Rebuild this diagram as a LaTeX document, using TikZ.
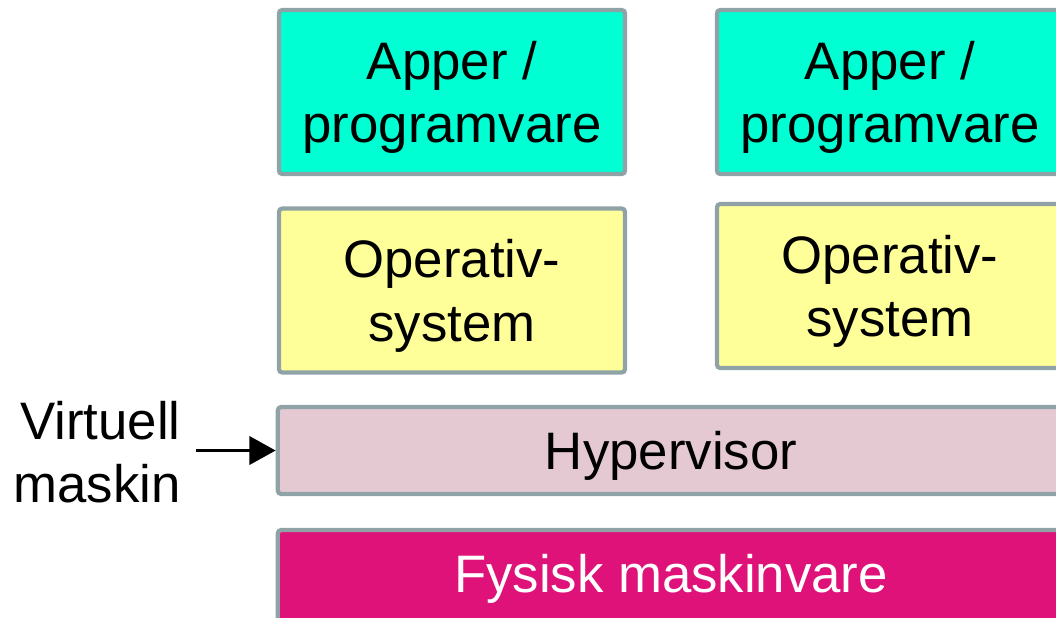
\documentclass[tikz,border=0pt]{standalone}
\usepackage{fontspec}
\setmainfont{Liberation Sans}
\usetikzlibrary{positioning,arrows,arrows.meta}

\definecolor{appcol}{RGB}{0,255,210}
\definecolor{oscol}{RGB}{255,255,153}
\definecolor{hypcol}{RGB}{228,200,210}
\definecolor{hwcol}{RGB}{222,18,120}
\definecolor{edgecol}{RGB}{143,163,166}

\begin{document}
\begin{tikzpicture}[x=0.01cm, y=-0.01cm,
    layer/.style={draw=edgecol, line width=1.2pt, rounded corners=1pt, align=center,
      inner sep=0pt, text depth=0pt, font=\fontsize{15}{18}\selectfont},
    small/.style={layer, minimum width=3.46cm, minimum height=1.64cm},
    wide/.style={layer, minimum width=7.86cm, minimum height=0.87cm}]
    \useasboundingbox (0,0) rectangle (1056,617);
    \node[small, fill=appcol] (app1) at (452,92) {Apper /\\programvare};
    \node[small, fill=appcol] (app2) at (890,92) {Apper /\\programvare};
    \node[small, fill=oscol] (os1) at (452,290.5) {Operativ-\\system};
    \node[small, fill=oscol] (os2) at (890,286) {Operativ-\\system};
    \node[wide, fill=hypcol] (hyp) at (671,450.5) {Hypervisor};
    \node[wide, fill=hwcol, text=white, minimum height=1.2cm] (hw) at (671,590) {};
    \node[text=white, font=\fontsize{15}{18}\selectfont, text depth=0pt] (hwtext) at (671,573) {Fysisk maskinvare};
    \node[align=right, font=\fontsize{15}{18}\selectfont] (vm) at (97,452) {Virtuell\\maskin};
    \coordinate (vmtail) at (196,450.5);
    \draw [-{Triangle[length=7.5pt,width=8pt]}, line width=1.1pt] (vmtail) -- (hyp.west);
  \end{tikzpicture}
\end{document}
